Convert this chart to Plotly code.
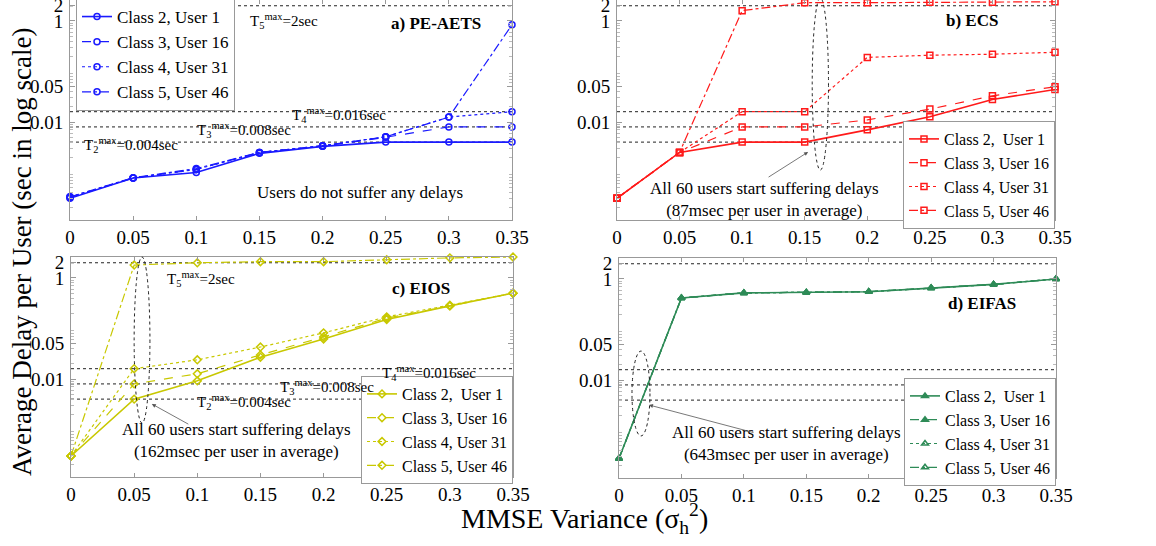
import math
import plotly.graph_objects as go

# ---------------- data ----------------
variance = [0, 0.05, 0.1, 0.15, 0.2, 0.25, 0.3, 0.35]
x_ticks = [0, 0.05, 0.1, 0.15, 0.2, 0.25, 0.3, 0.35]
x_ticktext = ["0", "0.05", "0.1", "0.15", "0.2", "0.25", "0.3", "0.35"]
y_ticks = [0.01, 0.05, 1, 2]
y_ticktext = ["0.01", "0.05", "1", "2"]

class_names_a = ["Class 2, User 1", "Class 3, User 16", "Class 4, User 31", "Class 5, User 46"]
class_names = ["Class 2,\u00a0\u00a0User 1", "Class 3, User 16", "Class 4, User 31", "Class 5, User 46"]

thresholds = [2, 0.016, 0.008, 0.004]
threshold_labels = ["T<sub>5</sub><sup>max</sup>=2sec", "T<sub>4</sub><sup>max</sup>=0.016sec",
                    "T<sub>3</sub><sup>max</sup>=0.008sec", "T<sub>2</sub><sup>max</sup>=0.004sec"]

pe_aets = [
    [3.1e-4, 7.8e-4, 1.0e-3, 2.4e-3, 3.3e-3, 4.0e-3, 4.0e-3, 4.0e-3],
    [3.2e-4, 7.8e-4, 1.15e-3, 2.5e-3, 3.3e-3, 5.0e-3, 8.0e-3, 8.0e-3],
    [3.3e-4, 7.8e-4, 1.15e-3, 2.5e-3, 3.4e-3, 5.1e-3, 1.25e-2, 1.6e-2],
    [3.3e-4, 7.9e-4, 1.2e-3, 2.5e-3, 3.4e-3, 5.1e-3, 1.25e-2, 0.84],
]
ecs = [
    [3.1e-4, 2.5e-3, 4.0e-3, 4.0e-3, 7.0e-3, 1.27e-2, 2.8e-2, 4.4e-2],
    [3.1e-4, 2.5e-3, 8.0e-3, 8.0e-3, 1.1e-2, 1.8e-2, 3.3e-2, 5.0e-2],
    [3.1e-4, 2.5e-3, 1.6e-2, 1.6e-2, 0.19, 0.21, 0.22, 0.24],
    [3.1e-4, 2.5e-3, 1.6, 2.3, 2.3, 2.35, 2.35, 2.4],
]
eios = [
    [3.0e-4, 4.0e-3, 9.2e-3, 2.7e-2, 6.2e-2, 0.15, 0.28, 0.5],
    [3.0e-4, 8.0e-3, 1.27e-2, 3.0e-2, 6.8e-2, 0.16, 0.28, 0.5],
    [3.0e-4, 1.6e-2, 2.4e-2, 4.3e-2, 8.2e-2, 0.17, 0.29, 0.5],
    [3.0e-4, 1.8, 2.0, 2.1, 2.1, 2.3, 2.5, 2.6],
]
eifas = [
    [2.8e-4, 0.42, 0.53, 0.54, 0.56, 0.66, 0.78, 1.0],
    [2.8e-4, 0.42, 0.53, 0.54, 0.56, 0.66, 0.78, 1.0],
    [2.8e-4, 0.42, 0.53, 0.54, 0.56, 0.66, 0.78, 1.0],
    [2.8e-4, 0.42, 0.53, 0.54, 0.56, 0.66, 0.78, 1.0],
]

# ---------------- style ----------------
FONT = "'Liberation Serif', 'Times New Roman', Times, serif"
W, H = 1156, 546
dashes = ["solid", "dash", "dot", "dashdot"]
widths = [1.6, 1.2, 1.2, 1.2]

panels = [
    dict(data=pe_aets, color="#1a1aff", symbols=["circle-open"] * 4, names=class_names_a,
         xa="x", ya="y", legend="legend", title="a) PE-AETS"),
    dict(data=ecs, color="#ff1a1a", symbols=["square-open"] * 4, names=class_names,
         xa="x2", ya="y2", legend="legend2", title="b) ECS"),
    dict(data=eios, color="#c8c800", symbols=["diamond-open"] * 4, names=class_names,
         xa="x3", ya="y3", legend="legend3", title="c) EIOS"),
    dict(data=eifas, color="#2e8b57",
         symbols=["triangle-up", "triangle-up", "triangle-up-open", "triangle-up-open"],
         names=class_names, xa="x4", ya="y4", legend="legend4", title="d) EIFAS"),
]

fig = go.Figure()

# threshold lines (drawn first)
for p in panels:
    for t in thresholds:
        fig.add_trace(go.Scatter(x=[variance[0], variance[-1]], y=[t, t], mode="lines",
                                 line=dict(color="#222222", width=1, dash="dot"),
                                 xaxis=p["xa"], yaxis=p["ya"], showlegend=False,
                                 hoverinfo="skip"))

for p in panels:
    for i, series in enumerate(p["data"]):
        fig.add_trace(go.Scatter(
            x=variance, y=series, mode="lines+markers", name=p["names"][i],
            line=dict(color=p["color"], width=widths[i], dash=dashes[i]),
            marker=dict(symbol=p["symbols"][i], size=6, color=p["color"],
                        line=dict(color=p["color"], width=1.5)),
            cliponaxis=False,
            xaxis=p["xa"], yaxis=p["ya"], legend=p["legend"]))

# pixel geometry of panels
px_x = [(70, 512), (617, 1055), (71, 513), (619, 1056)]
px_y = [(0, 220), (0, 220), (257, 477), (258, 478)]
yrange = [math.log10(1.15e-4), math.log10(2.6)]

minor_vals = []
for e in range(-4, 1):
    for m in range(2, 10):
        v = m * 10 ** e
        if v < 2.6:
            minor_vals.append(v)

layout = dict(width=W, height=H, margin=dict(l=0, r=0, t=0, b=0, autoexpand=False),
              paper_bgcolor="white", plot_bgcolor="white",
              font=dict(family=FONT, color="black"))

for k in range(4):
    xs = "xaxis" if k == 0 else f"xaxis{k+1}"
    ys = "yaxis" if k == 0 else f"yaxis{k+1}"
    x0, x1 = px_x[k]
    y0, y1 = px_y[k]
    layout[xs] = dict(domain=[x0 / W, x1 / W], anchor=panels[k]["ya"], range=[0, 0.35],
                      tickmode="array", tickvals=x_ticks, ticktext=x_ticktext,
                      ticks="inside", ticklen=4, tickcolor="#999", showgrid=False, zeroline=False,
                      showline=True, linecolor="#999", linewidth=1, mirror="ticks",
                      automargin=False, ticklabeloverflow="allow",
                      tickfont=dict(family=FONT, size=19), ticklabelstandoff=0)
    layout[ys] = dict(domain=[1 - y1 / H, 1 - y0 / H], anchor=panels[k]["xa"], type="log",
                      range=yrange, tickmode="array", tickvals=y_ticks, ticktext=y_ticktext,
                      ticks="inside", ticklen=5, tickcolor="#999", showgrid=False, zeroline=False,
                      showline=True, linecolor="#999", linewidth=1, mirror="ticks",
                      automargin=False, ticklabeloverflow="allow",
                      tickfont=dict(family=FONT, size=19), ticklabelstandoff=2,
                      minor=dict(tickmode="array", tickvals=minor_vals, ticks="inside",
                                 ticklen=3, tickcolor="#bbb"))

leg_common = dict(bgcolor="white", bordercolor="#999", borderwidth=1,
                  tracegroupgap=0, itemwidth=30)
layout["legend"] = dict(x=76 / W, y=1 + 2 / H, xanchor="left", yanchor="top",
                        font=dict(family=FONT, size=17), **leg_common)
layout["legend2"] = dict(x=1055 / W, y=1 - 121 / H, xanchor="right", yanchor="top",
                         font=dict(family=FONT, size=16), **leg_common)
layout["legend3"] = dict(x=513 / W, y=1 - 376 / H, xanchor="right", yanchor="top",
                         font=dict(family=FONT, size=16), **leg_common)
layout["legend4"] = dict(x=1056 / W, y=1 - 378 / H, xanchor="right", yanchor="top",
                         font=dict(family=FONT, size=16), **leg_common)

fig.update_layout(**layout)

# panel titles
title_pos = [(0.29, 0.895), (0.284, 0.909), (0.277, 0.859), (0.291, 0.795)]
for k, p in enumerate(panels):
    fig.add_annotation(x=title_pos[k][0], y=title_pos[k][1], xref=p["xa"],
                       yref=p["ya"] + " domain", text="<b>" + p["title"] + "</b>",
                       xanchor="center", yanchor="middle",
                       showarrow=False, font=dict(family=FONT, size=17))

# threshold labels (annotation y on log axes uses log10)
lab_a = [(0.141, -15), (0.174, -3), (0.099, -3), (0.0095, -3)]
lab_c = [(0.0744, -16), (0.2447, -4), (0.164, -3), (0.098, -3)]
for p, labs in ((panels[0], lab_a), (panels[2], lab_c)):
    for t, txt, (lx, ys) in zip(thresholds, threshold_labels, labs):
        fig.add_annotation(x=lx, y=math.log10(t), xref=p["xa"], yref=p["ya"], text=txt,
                           showarrow=False, xanchor="left", yanchor="middle", yshift=ys,
                           font=dict(family=FONT, size=15))

fig.add_annotation(x=0.230, y=0.123, xref="x", yref="y domain",
                   text="Users do not suffer any delays", showarrow=False,
                   xanchor="center", yanchor="middle",
                   font=dict(family=FONT, size=17))

# "All 60 users" notes: (panel index, text x, text y domain, msec, arrow head x, head y domain, ax, ay)
notes = [
    (1, 0.118, 0.091, "87", 0.1527, 0.309, -41, 26),
    (2, 0.131, 0.165, "162", 0.064, 0.332, 38, 21),
    (3, 0.134, 0.159, "643", 0.024, 0.332, 106, 28),
]
for k, tx, ty, ms, hx, hy, ax, ay in notes:
    p = panels[k]
    fig.add_annotation(x=tx, y=ty, xref=p["xa"], yref=p["ya"] + " domain",
                       text=f"All 60 users start suffering delays<br>({ms}msec per user in average)",
                       xanchor="center", yanchor="middle",
                       showarrow=False, font=dict(family=FONT, size=17))
    fig.add_annotation(x=hx, y=hy, xref=p["xa"], yref=p["ya"] + " domain", text="",
                       showarrow=True, arrowhead=2, arrowsize=1, arrowwidth=0.8,
                       arrowcolor="#555", ax=ax, ay=ay)

# dotted ellipses
ellipses = [
    (1, 0.156, 0.169, 0.227, 1.01),
    (2, 0.050, 0.0625, 0.245, 1.0),
    (3, 0.0104, 0.0248, 0.191, 0.577),
]
for k, ex0, ex1, ey0, ey1 in ellipses:
    p = panels[k]
    fig.add_shape(type="circle", xref=p["xa"], yref=p["ya"] + " domain",
                  x0=ex0, x1=ex1, y0=ey0, y1=ey1,
                  line=dict(color="#222", width=1, dash="dot"))

# axis titles
fig.add_annotation(x=22 / W, y=1 - 252 / H, xref="paper", yref="paper",
                   text="Average Delay per User (sec in log scale)", textangle=-90,
                   xanchor="center", yanchor="middle",
                   showarrow=False, font=dict(family=FONT, size=27))
fig.add_annotation(x=584 / W, y=1 - 518 / H, xref="paper", yref="paper",
                   text="MMSE Variance (σ<sub>h</sub><sup>2</sup>)",
                   xanchor="center", yanchor="middle",
                   showarrow=False, font=dict(family=FONT, size=28))

fig.write_html("out.html")
